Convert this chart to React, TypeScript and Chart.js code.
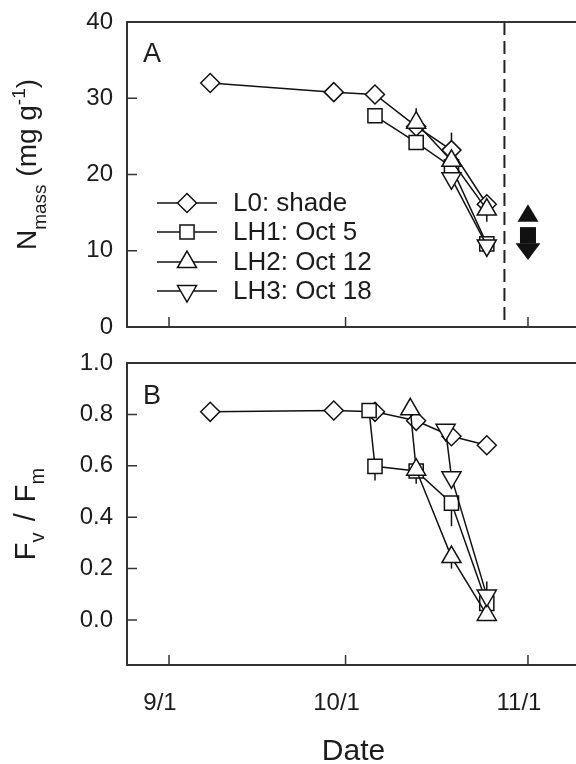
import React, { useEffect, useRef } from "react";
import { Chart, registerables } from "chart.js";
import { drawPoint } from "chart.js/helpers";

Chart.register(...registerables);

// ---------------- data ----------------
const seriesNames = ["L0: shade", "LH1: Oct 5", "LH2: Oct 12", "LH3: Oct 18"];
const xTickDates = ["09-01", "10-01", "11-01"];
const xTickLabels = ["9/1", "10/1", "11/1"];
const yTicksA = [0, 10, 20, 30, 40];
const yTicksB = [0, 0.2, 0.4, 0.6, 0.8, 1.0];

// Panel A: N mass (mg g-1)
const l0DatesA = ["09-08", "09-29", "10-06", "10-13", "10-19", "10-25"];
const l0ValuesA = [32.0, 30.8, 30.5, 26.3, 23.2, 16.1];
const l0ErrA = [0, 0, 0, 0, 2.3, 0];
const lh1DatesA = ["10-06", "10-13", "10-19", "10-25"];
const lh1ValuesA = [27.7, 24.2, 21.0, 10.9];
const lh1ErrA = [0, 0, 0, 0];
const lh2DatesA = ["10-13", "10-19", "10-25"];
const lh2ValuesA = [26.8, 21.8, 15.4];
const lh2ErrA = [1.9, 0, -1.6];
const lh3DatesA = ["10-19", "10-25"];
const lh3ValuesA = [19.5, 10.7];
const lh3ErrA = [0, -1.3];

// Panel B: Fv / Fm
const l0DatesB = ["09-08", "09-29", "10-06", "10-13", "10-19", "10-25"];
const l0ValuesB = [0.81, 0.815, 0.81, 0.775, 0.715, 0.68];
const l0ErrB = [0, 0, 0, 0, 0, 0];
const lh1DatesB = ["10-05", "10-06", "10-13", "10-19", "10-25"];
const lh1ValuesB = [0.815, 0.598, 0.58, 0.455, 0.065];
const lh1ErrB = [0, -0.055, 0, -0.09, 0];
const lh2DatesB = ["10-12", "10-13", "10-19", "10-25"];
const lh2ValuesB = [0.82, 0.585, 0.245, 0.02];
const lh2ErrB = [0, -0.055, -0.045, 0];
const lh3DatesB = ["10-18", "10-19", "10-25"];
const lh3ValuesB = [0.74, 0.555, 0.095];
const lh3ErrB = [0, 0, 0.055];

// annotations in panel A
const dashedLineDate = "10-28";
const arrowDate = "11-01";
const upArrowValues = [13.8, 16.1]; // bottom, top
const downArrowValues = [8.8, 11.0, 13.1]; // tip, neck, top

// ---------------- helpers ----------------
const FONT = "'Liberation Sans', Arial, Helvetica, sans-serif";
const INK = "#1c1c1c";
const AXIS = "#333333";

function dayOf(md: string): number {
  const [m, d] = md.split("-").map(Number);
  const off: Record<number, number> = { 8: -31, 9: 0, 10: 30, 11: 61 };
  return off[m] + d - 1;
}

const styles = [
  { pointStyle: "rectRot", rotation: 0, radius: 9.5 },
  { pointStyle: "rect", rotation: 0, radius: 10 },
  { pointStyle: "triangle", rotation: 0, radius: 11 },
  { pointStyle: "triangle", rotation: 180, radius: 11 },
];

function mkDataset(i: number, dates: string[], values: number[], errs: number[]) {
  const s = styles[i];
  return {
    label: seriesNames[i],
    data: dates.map((d, k) => ({ x: dayOf(d), y: values[k] })),
    errors: errs,
    borderColor: "#111",
    borderWidth: 1.5,
    pointStyle: s.pointStyle,
    rotation: s.rotation,
    pointRadius: s.radius,
    pointHoverRadius: s.radius,
    pointBackgroundColor: "#fff",
    pointBorderColor: "#111",
    pointBorderWidth: 1.5,
    fill: false,
    tension: 0,
    showLine: true,
    clip: false,
    order: 3 - i,
  };
}

const framePlugin = {
  id: "frame",
  afterDatasetsDraw(chart: any) {
    const { ctx, chartArea: a, scales } = chart;
    ctx.save();
    ctx.strokeStyle = AXIS;
    ctx.lineWidth = 2;
    ctx.beginPath();
    ctx.moveTo(a.right + 4, a.top);
    ctx.lineTo(a.left, a.top);
    ctx.lineTo(a.left, a.bottom);
    ctx.lineTo(a.right + 4, a.bottom);
    ctx.stroke();
    ctx.lineWidth = 1.5;
    ctx.beginPath();
    scales.x.ticks.forEach((t: any) => {
      const px = scales.x.getPixelForValue(t.value);
      ctx.moveTo(px, a.bottom);
      ctx.lineTo(px, a.bottom - 10);
    });
    scales.y.ticks.forEach((t: any) => {
      const py = scales.y.getPixelForValue(t.value);
      if (py > a.top + 2 && py < a.bottom - 2) {
        ctx.moveTo(a.left, py);
        ctx.lineTo(a.left + 10, py);
      }
    });
    ctx.stroke();
    ctx.restore();
  },
};

const errorBarPlugin = {
  id: "errorBars",
  beforeDatasetsDraw(chart: any) {
    const { ctx, scales } = chart;
    ctx.save();
    ctx.strokeStyle = "#111";
    ctx.lineWidth = 1.5;
    chart.data.datasets.forEach((ds: any, di: number) => {
      const meta = chart.getDatasetMeta(di);
      (ds.errors || []).forEach((e: number, k: number) => {
        if (!e) return;
        const el = meta.data[k];
        const v = ds.data[k].y;
        ctx.beginPath();
        ctx.moveTo(el.x, el.y);
        ctx.lineTo(el.x, scales.y.getPixelForValue(v + e));
        ctx.stroke();
      });
    });
    ctx.restore();
  },
};

function drawRich(ctx: CanvasRenderingContext2D, parts: any[], baselineX: number, cy: number) {
  ctx.save();
  ctx.translate(baselineX, cy);
  ctx.rotate(-Math.PI / 2);
  let total = 0;
  parts.forEach((p) => {
    ctx.font = `${p.size}px ${FONT}`;
    p.w = ctx.measureText(p.t).width + (p.gap || 0) * 2;
    total += p.w;
  });
  let x = -total / 2;
  ctx.textBaseline = "alphabetic";
  ctx.textAlign = "left";
  ctx.fillStyle = INK;
  parts.forEach((p) => {
    ctx.font = `${p.size}px ${FONT}`;
    ctx.fillText(p.t, x + (p.gap || 0), p.dy);
    x += p.w;
  });
  ctx.restore();
}

const panelAExtras = {
  id: "panelAExtras",
  beforeDatasetsDraw(chart: any) {
    const { ctx, chartArea: a, scales } = chart;
    const xs = scales.x, ys = scales.y;
    ctx.save();
    const dx = xs.getPixelForValue(dayOf(dashedLineDate));
    ctx.strokeStyle = "#222";
    ctx.lineWidth = 2;
    ctx.setLineDash([13, 6]);
    ctx.beginPath();
    ctx.moveTo(dx, a.top);
    ctx.lineTo(dx, a.bottom);
    ctx.stroke();
    ctx.setLineDash([]);
    const ax = xs.getPixelForValue(dayOf(arrowDate));
    ctx.fillStyle = "#111";
    ctx.beginPath();
    ctx.moveTo(ax, ys.getPixelForValue(upArrowValues[1]));
    ctx.lineTo(ax + 10.5, ys.getPixelForValue(upArrowValues[0]));
    ctx.lineTo(ax - 10.5, ys.getPixelForValue(upArrowValues[0]));
    ctx.closePath();
    ctx.fill();
    const yTop = ys.getPixelForValue(downArrowValues[2]);
    const yNeck = ys.getPixelForValue(downArrowValues[1]);
    const yTip = ys.getPixelForValue(downArrowValues[0]);
    ctx.fillRect(ax - 8, yTop, 16, yNeck - yTop + 0.5);
    ctx.beginPath();
    ctx.moveTo(ax - 12.5, yNeck);
    ctx.lineTo(ax + 12.5, yNeck);
    ctx.lineTo(ax, yTip);
    ctx.closePath();
    ctx.fill();
    ctx.restore();
  },
  afterDraw(chart: any) {
    const { ctx, chartArea: a } = chart;
    ctx.save();
    const rows = [203, 232, 262, 291];
    chart.data.datasets.forEach((ds: any, i: number) => {
      const y = rows[i];
      ctx.strokeStyle = "#111";
      ctx.lineWidth = 1.5;
      ctx.beginPath();
      ctx.moveTo(157, y);
      ctx.lineTo(217, y);
      ctx.stroke();
      ctx.fillStyle = "#fff";
      ctx.strokeStyle = "#111";
      drawPoint(ctx, { pointStyle: ds.pointStyle, rotation: ds.rotation, radius: ds.pointRadius, borderWidth: 1.5 } as any, 187, y);
      ctx.fillStyle = INK;
      ctx.font = `26px ${FONT}`;
      ctx.textBaseline = "middle";
      ctx.textAlign = "left";
      ctx.fillText(ds.label, 233, y + 1);
    });
    ctx.font = `27px ${FONT}`;
    ctx.textBaseline = "alphabetic";
    ctx.fillStyle = INK;
    ctx.fillText("A", 143, 62);
    drawRich(ctx, [
      { t: "N", size: 28, dy: 0 },
      { t: "mass", size: 19, dy: 10 },
      { t: " (mg g", size: 28, dy: 0 },
      { t: "-1", size: 19, dy: -11 },
      { t: ")", size: 28, dy: 0 },
    ], 36, (a.top + a.bottom) / 2 - 10);
    ctx.restore();
  },
};

const panelBExtras = {
  id: "panelBExtras",
  afterDraw(chart: any) {
    const { ctx, chartArea: a } = chart;
    ctx.save();
    ctx.font = `27px ${FONT}`;
    ctx.textBaseline = "alphabetic";
    ctx.fillStyle = INK;
    ctx.fillText("B", 143, 64);
    drawRich(ctx, [
      { t: "F", size: 29, dy: 0 },
      { t: "v", size: 20, dy: 9 },
      { t: " / ", size: 29, dy: 0, gap: 3 },
      { t: "F", size: 29, dy: 0 },
      { t: "m", size: 20, dy: 9 },
    ], 35, (a.top + a.bottom) / 2);
    ctx.font = `30px ${FONT}`;
    ctx.textAlign = "center";
    ctx.fillText("Date", (a.left + a.right) / 2 + 2, 420);
    ctx.restore();
  },
};

function baseOptions(yMin: number, yMax: number, yTicks: number[], fmt: (v: number) => string,
  showX: boolean, xAxisHeight: number, topPad: number) {
  const xTickVals = xTickDates.map(dayOf);
  return {
    responsive: false,
    animation: false,
    devicePixelRatio: 1,
    layout: { autoPadding: false, padding: { top: topPad, left: 0, right: 0, bottom: 0 } },
    plugins: { legend: { display: false }, tooltip: { enabled: false } },
    events: [],
    scales: {
      x: {
        type: "linear",
        min: -7.14,
        max: 69.16,
        grid: { display: false, drawTicks: false },
        border: { display: false },
        afterBuildTicks: (s: any) => { s.ticks = xTickVals.map((v) => ({ value: v })); },
        afterFit: (s: any) => {
          s.height = xAxisHeight;
          s.paddingLeft = 0; s.paddingRight = 0; s.paddingTop = 0; s.paddingBottom = 0;
        },
        ticks: {
          display: showX,
          padding: 24,
          labelOffset: -9,
          color: INK,
          font: { family: FONT, size: 24 },
          maxRotation: 0,
          autoSkip: false,
          callback: (v: number) => xTickLabels[xTickVals.indexOf(v)] ?? "",
        },
      },
      y: {
        type: "linear",
        min: yMin,
        max: yMax,
        grid: { display: false, drawTicks: false },
        border: { display: false },
        afterBuildTicks: (s: any) => { s.ticks = yTicks.map((v) => ({ value: v })); },
        afterFit: (s: any) => {
          s.width = 127;
          s.paddingLeft = 0; s.paddingRight = 0; s.paddingTop = 0; s.paddingBottom = 0;
        },
        ticks: {
          padding: 14,
          color: INK,
          font: { family: FONT, size: 24 },
          autoSkip: false,
          callback: (v: number) => fmt(v),
        },
      },
    },
  };
}

export default function App() {
  const refA = useRef<HTMLCanvasElement>(null);
  const refB = useRef<HTMLCanvasElement>(null);

  useEffect(() => {
    const chartA = new Chart(refA.current as HTMLCanvasElement, {
      type: "line",
      data: {
        datasets: [
          mkDataset(0, l0DatesA, l0ValuesA, l0ErrA),
          mkDataset(1, lh1DatesA, lh1ValuesA, lh1ErrA),
          mkDataset(2, lh2DatesA, lh2ValuesA, lh2ErrA),
          mkDataset(3, lh3DatesA, lh3ValuesA, lh3ErrA),
        ] as any,
      },
      options: baseOptions(0, 40, yTicksA, (v) => String(v), false, 13, 22) as any,
      plugins: [errorBarPlugin, panelAExtras, framePlugin],
    });
    const chartB = new Chart(refB.current as HTMLCanvasElement, {
      type: "line",
      data: {
        datasets: [
          mkDataset(0, l0DatesB, l0ValuesB, l0ErrB),
          mkDataset(1, lh1DatesB, lh1ValuesB, lh1ErrB),
          mkDataset(2, lh2DatesB, lh2ValuesB, lh2ErrB),
          mkDataset(3, lh3DatesB, lh3ValuesB, lh3ErrB),
        ] as any,
      },
      options: baseOptions(-0.175, 1.0, yTicksB, (v) => Number(v).toFixed(1), true, 99, 23) as any,
      plugins: [errorBarPlugin, panelBExtras, framePlugin],
    });
    return () => {
      chartA.destroy();
      chartB.destroy();
    };
  }, []);

  return (
    <div style={{ position: "absolute", left: 0, top: 0, width: 576, height: 764, background: "#fff", overflow: "hidden" }}>
      <canvas ref={refA} width={576} height={340} style={{ position: "absolute", left: 0, top: 0, width: 576, height: 340 }} />
      <canvas ref={refB} width={576} height={424} style={{ position: "absolute", left: 0, top: 340, width: 576, height: 424 }} />
    </div>
  );
}
